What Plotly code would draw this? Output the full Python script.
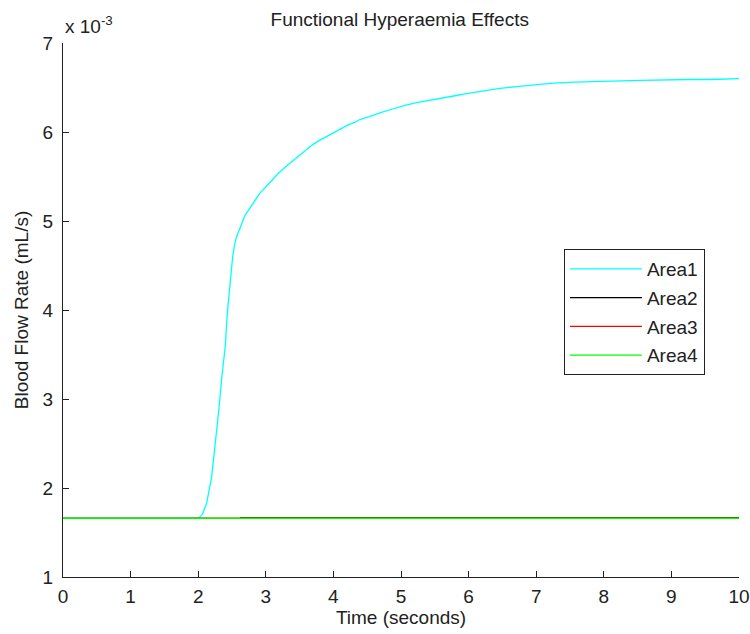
import plotly.graph_objects as go

# Data (values in units of 1e-3 mL/s)
t_area1 = [0, 2.0, 2.06, 2.125, 2.2, 2.25, 2.3, 2.35, 2.4, 2.43, 2.47, 2.51, 2.54, 2.57,
           2.64, 2.69, 2.77, 2.82, 2.91, 3.01, 3.09, 3.18, 3.28, 3.36, 3.46, 3.53, 3.60,
           3.68, 3.78, 3.88, 3.95, 4.05, 4.15, 4.22, 4.32, 4.39, 4.52, 4.59, 4.71, 4.84,
           4.96, 5.06, 5.23, 5.43, 5.58, 5.82, 5.97, 6.12, 6.29, 6.46, 6.71, 6.96, 7.25,
           7.57, 7.99, 8.54, 9.27, 9.60, 10]
v_area1 = [1.66, 1.66, 1.70, 1.83, 2.13, 2.46, 2.84, 3.25, 3.59, 3.96, 4.26, 4.60, 4.74, 4.83,
           4.96, 5.06, 5.15, 5.21, 5.31, 5.39, 5.46, 5.53, 5.60, 5.65, 5.71, 5.76, 5.80,
           5.85, 5.90, 5.94, 5.97, 6.01, 6.05, 6.08, 6.11, 6.14, 6.17, 6.19, 6.22, 6.25,
           6.28, 6.30, 6.33, 6.36, 6.38, 6.41, 6.43, 6.45, 6.47, 6.49, 6.51, 6.53, 6.55,
           6.56, 6.57, 6.58, 6.59, 6.59, 6.60]
t_area2 = [2.62, 10]
v_area2 = [1.668, 1.668]
t_area3 = [0, 10]
v_area3 = [1.66, 1.66]
t_area4 = [0, 10]
v_area4 = [1.66, 1.66]

series = [
    ("Area1", t_area1, v_area1, "#00FFFF"),
    ("Area2", t_area2, v_area2, "#000000"),
    ("Area3", t_area3, v_area3, "#FF0000"),
    ("Area4", t_area4, v_area4, "#00FF00"),
]

x_ticks = list(range(0, 11))
y_ticks = list(range(1, 8))

FONT = "Liberation Sans, Arial, sans-serif"
INK = "#222222"
FS = 19

fig = go.Figure()
for name, t, v, c in series:
    fig.add_trace(go.Scatter(x=t, y=v, mode="lines", name=name, legendgroup=name,
                             line=dict(color=c, width=1.3)))

axis_common = dict(showline=True, linecolor=INK, linewidth=1, ticks="inside",
                   ticklen=6, tickcolor=INK, showgrid=False, zeroline=False,
                   mirror=False, automargin=False,
                   tickfont=dict(family=FONT, size=FS, color=INK))

fig.update_layout(
    width=750, height=634,
    margin=dict(l=63, r=11, t=43, b=57),
    paper_bgcolor="white", plot_bgcolor="white",
    font=dict(family=FONT, size=FS, color=INK),
    title=dict(text="Functional Hyperaemia Effects", x=0.533, xanchor="center",
               y=0.970, yanchor="middle", font=dict(family=FONT, size=FS, color=INK)),
    xaxis=dict(range=[0, 10], tickvals=x_ticks, ticktext=[str(v) for v in x_ticks],
               ticklabelstandoff=2,
               title=dict(text="Time (seconds)", standoff=3, font=dict(family=FONT, size=FS)),
               **axis_common),
    yaxis=dict(range=[1, 7], tickvals=y_ticks, ticktext=[str(v) for v in y_ticks],
               ticklabelstandoff=5,
               title=dict(text="Blood Flow Rate (mL/s)", standoff=8, font=dict(family=FONT, size=FS)),
               **axis_common),
    legend=dict(x=0.741, y=0.614, xanchor="left", yanchor="top",
                bgcolor="white", bordercolor=INK, borderwidth=1,
                font=dict(family=FONT, size=FS, color=INK),
                traceorder="grouped", tracegroupgap=1, itemwidth=72),
    annotations=[dict(text="x 10<sup>-3</sup>", xref="paper", yref="paper", x=0, y=1,
                      xanchor="left", yanchor="bottom", yshift=4, showarrow=False,
                      font=dict(family=FONT, size=FS, color=INK))],
)

fig.write_html("out.html")
